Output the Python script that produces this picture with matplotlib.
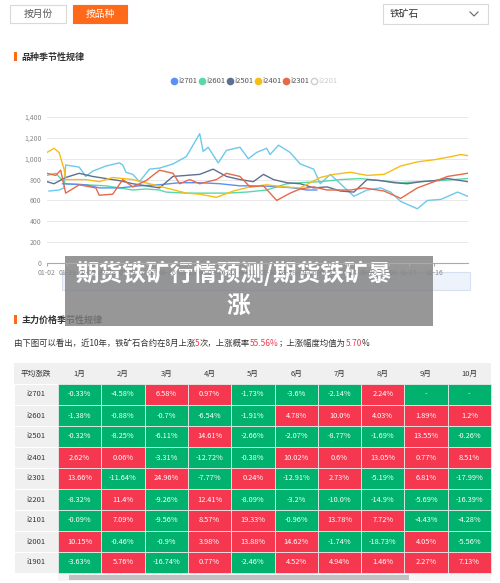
import matplotlib
matplotlib.use("Agg")
import matplotlib.pyplot as plt
from matplotlib.patches import Rectangle
from matplotlib.offsetbox import TextArea, HPacker, AnnotationBbox

plt.rcParams['font.family'] = ['Noto Sans CJK SC', 'DejaVu Sans']

# ---------------- data ----------------
x_labels = ["01-02","01-21","02-09","02-28","03-19","04-07","04-26","05-15","06-03","06-22",
            "07-11","07-30","08-18","09-06","09-25","10-14","10-20","11-08","11-27","12-16"]
x_label_pos = [0,1,2,3,4,5,6,7,8,9,10,11,12,13,14,15,16,17,18,19.25]
y_ticks = [0,200,400,600,800,1000,1200,1400]

series_names = ["i2701","i2601","i2501","i2401","i2301","i2201"]
series_colors = ["#5b8ff9","#5ad8a6","#5d7092","#f6bd16","#e8684a","#cccccc"]

i2101_x = [0.1,0.6,0.85,0.93,1.6,1.93,2.27,2.93,3.6,3.77,3.93,4.27,4.6,5.1,5.6,6.27,6.93,7.6,7.77,8.02,8.52,8.93,9.6,10.02,10.43,10.93,11.1,11.52,12.1,12.6,13.27,13.6,14.1,14.6,15.27,15.93,16.6,17.1,17.6,18.43,18.93,19.6,20.43,20.93]
i2101_y = [690,700,720,940,920,830,880,930,960,940,870,850,780,900,910,950,1020,1240,1070,1110,960,1080,1110,1000,1060,1100,1040,1130,1060,950,900,760,850,760,640,700,720,680,590,520,600,610,680,640]

i2401_x = [0,0.35,0.6,0.85,0.93,1.93,2.6,3.27,4.27,5.1,5.93,6.93,7.6,8.43,9.27,10.1,10.93,11.77,12.6,13.6,14.27,15.1,15.93,16.77,17.6,18.43,19.27,20.1,20.6,20.93]
i2401_y = [1060,1100,1060,900,800,800,780,820,800,760,720,670,660,630,690,730,750,730,720,820,850,870,840,850,930,970,990,1020,1040,1030]

i2301_x = [0,0.43,0.68,0.93,1.6,2.43,2.6,3.27,3.77,4.27,4.93,5.6,6.27,6.6,7.1,7.6,8.43,8.93,9.6,10.1,10.77,11.43,12.1,12.6,13.27,13.93,14.6,15.1,15.77,16.77,17.6,18.43,19.27,19.93,20.93]
i2301_y = [860,840,890,670,750,720,650,660,800,730,790,890,860,760,800,760,800,860,830,730,740,600,670,710,730,700,700,700,720,690,620,720,780,830,860]

i2501_x = [0,0.35,0.93,1.6,2.27,2.93,3.6,4.27,4.93,5.6,6.27,6.93,7.6,8.27,8.93,9.6,10.27,10.77,11.27,11.93,12.6,13.27,13.93,14.6,15.27,15.93,16.6,17.27,17.93,18.6,19.27,19.93,20.93]
i2501_y = [780,760,820,860,830,810,790,760,740,720,830,840,850,900,830,800,780,850,800,770,760,720,730,690,680,800,790,770,760,780,790,810,780]

i2601_x = [0,0.43,0.93,1.93,2.93,3.6,4.27,4.93,5.6,5.93,6.93,7.93,8.93,9.93,10.93,11.93,12.6,13.6,14.6,15.6,16.6,17.6,18.6,19.6,20.27,20.93]
i2601_y = [840,860,760,750,740,720,700,710,700,680,670,670,670,680,700,760,770,780,800,810,790,770,780,790,800,810]

i2701_x = [0.77,1.93,2.6,3.6,4.6,5.6,6.6,7.6,8.6,9.6,10.6,11.6,12.27,12.93,13.43]
i2701_y = [760,750,720,720,740,750,770,770,760,740,740,730,720,700,700]

row_labels = ["i2701","i2601","i2501","i2401","i2301","i2201","i2101","i2001","i1901"]
col_labels = ["1月","2月","3月","4月","5月","6月","7月","8月","9月","10月"]
table_values = [
    [-0.33,-4.58,6.58,0.97,-1.73,-3.6,-2.14,2.24,None,None],
    [-1.38,-0.88,-0.7,-6.54,-1.91,4.78,10.0,4.03,1.89,1.2],
    [-0.32,-8.25,-6.11,14.61,-2.66,-2.07,-8.77,-1.69,13.55,-0.26],
    [2.62,0.06,-3.31,-12.72,-0.38,10.02,0.6,13.05,0.77,8.51],
    [13.66,-11.64,24.96,-7.77,0.24,-12.91,2.73,-5.19,6.81,-17.99],
    [-8.32,11.4,-9.26,12.41,-8.09,-3.2,-10.0,-14.9,-5.69,-16.39],
    [-0.09,7.09,-9.56,8.57,19.33,-0.96,13.78,7.72,-4.43,-4.28],
    [10.15,-0.46,-0.9,3.98,13.88,14.62,-1.74,-18.73,4.05,-5.56],
    [-3.63,5.76,-16.74,0.77,-2.46,4.52,4.94,1.46,2.27,7.13],
]

# ---------------- figure ----------------
W, H = 500, 583
fig = plt.figure(figsize=(W/100, H/100), dpi=100)
bg = fig.add_axes([0, 0, 1, 1])
bg.set_xlim(0, W); bg.set_ylim(H, 0); bg.axis('off')

def fmt(v):
    if v is None:
        return "-"
    s = ("%.2f" % v).rstrip('0')
    if s.endswith('.'):
        s += '0'
    return s + "%"

# tabs
bg.add_patch(Rectangle((10, 5), 56, 18, fc='white', ec='#d9d9d9', lw=0.8))
bg.text(38, 14, "按月份", ha='center', va='center', fontsize=7, color='#555')
bg.add_patch(Rectangle((73, 5), 54, 18, fc='#ff6a1a', ec='#ff6a1a', lw=0.8))
bg.text(100, 14, "按品种", ha='center', va='center', fontsize=7, color='white')
bg.add_patch(Rectangle((383, 4), 105, 20, fc='white', ec='#d9d9d9', lw=0.8))
bg.text(390, 14, "铁矿石", ha='left', va='center', fontsize=7, color='#333')
bg.plot([470, 474, 478], [12, 16, 12], color='#666', lw=0.8)

# section titles
bg.add_patch(Rectangle((14, 52), 2.5, 9, fc='#ff6a1a'))
bg.text(21, 57, "品种季节性规律", ha='left', va='center', fontsize=6.5, color='#333', fontweight='bold')

# legend
lx = 174
for name, c in zip(series_names, series_colors):
    if name == "i2201":
        bg.plot([lx], [81], 'o', ms=4.5, mfc='white', mec=c, mew=1)
        tc = '#cccccc'
    else:
        bg.plot([lx], [81], 'o', ms=4.5, color=c)
        tc = '#555'
    bg.text(lx + 4, 81, name, ha='left', va='center', fontsize=5.5, color=tc)
    lx += 28

# line chart
ax = fig.add_axes([47/W, 1 - 263/H, (468-47)/W, (263-117)/H])
ax.set_xlim(0, 20.95)
ax.set_ylim(0, 1400)
ax.set_yticks(y_ticks)
ax.set_yticklabels([f"{v:,}" for v in y_ticks], fontsize=5, color='#888')
ax.set_xticks(x_label_pos)
ax.set_xticklabels(x_labels, fontsize=5, color='#888')
ax.tick_params(axis='y', length=0, pad=4)
ax.tick_params(axis='x', length=2, color='#aaa', pad=2)
ax.grid(axis='y', color='#e8e8e8', lw=0.7)
for s in ['top', 'right', 'left']:
    ax.spines[s].set_visible(False)
ax.spines['bottom'].set_color('#aaa')
ax.set_facecolor('none')
lines = [(i2101_x, i2101_y, "#6dc8ec"), (i2601_x, i2601_y, series_colors[1]),
         (i2701_x, i2701_y, series_colors[0]), (i2501_x, i2501_y, series_colors[2]),
         (i2401_x, i2401_y, series_colors[3]), (i2301_x, i2301_y, series_colors[4])]
for xs, ys, c in lines:
    ax.plot(xs, ys, color=c, lw=1.0)

# slider
bg.add_patch(Rectangle((62, 272), 408, 18, fc='#eef3fb', ec='#d6e0f0', lw=0.8))

# section title 2 (partly under overlay)
bg.add_patch(Rectangle((14, 315), 2.5, 9, fc='#ff6a1a'))
bg.text(21, 320, "主力价格季节性规律", ha='left', va='center', fontsize=6.5, color='#333', fontweight='bold')

# overlay
bg.add_patch(Rectangle((65, 256), 368, 70, fc='#808080', ec='none', alpha=0.82, zorder=5))
bg.text(76, 273, "期货铁矿行情预测/期货铁矿暴", ha='left', va='center', fontsize=17,
        color='white', fontweight='heavy', zorder=6)
bg.text(226, 306, "涨", ha='left', va='center', fontsize=17, color='white', fontweight='heavy', zorder=6)

# description
parts = [("由下图可以看出，近10年，铁矿石合约在8月上涨", '#333'), ("5", '#f5374f'), ("次，上涨概率", '#333'),
         ("55.56%", '#f5374f'), ("；上涨幅度均值为", '#333'), ("5.70", '#f5374f'), ("%", '#333')]
boxes = [TextArea(s, textprops=dict(fontsize=6, color=c)) for s, c in parts]
pack = HPacker(children=boxes, pad=0, sep=0, align='center')
ab = AnnotationBbox(pack, (14, 343), xycoords='data', box_alignment=(0, 0.5), frameon=False, pad=0)
bg.add_artist(ab)

# table
tx0, first_w, col_w = 14, 44, 43.3
ty0, hdr_h, row_h = 363, 21, 21
green, red = '#00b26e', '#f5374f'
bg.add_patch(Rectangle((tx0, ty0), first_w + col_w*10, hdr_h, fc='#f0f0f0', ec='none'))
bg.text(tx0 + first_w/2, ty0 + hdr_h/2, "平均涨跌", ha='center', va='center', fontsize=5.5, color='#333')
for j, cl in enumerate(col_labels):
    bg.text(tx0 + first_w + col_w*(j+0.5), ty0 + hdr_h/2, cl, ha='center', va='center', fontsize=5.5, color='#333')
for i, rl in enumerate(row_labels):
    y = ty0 + hdr_h + i*row_h
    bg.add_patch(Rectangle((tx0, y), first_w, row_h, fc='#f0f0f0', ec='white', lw=0.8))
    bg.text(tx0 + first_w/2, y + row_h/2, rl, ha='center', va='center', fontsize=5.5, color='#333')
    for j in range(10):
        v = table_values[i][j]
        c = red if (v is not None and v > 0) else green
        bg.add_patch(Rectangle((tx0 + first_w + col_w*j, y), col_w, row_h, fc=c, ec='#e8e8e8', lw=0.6))
        bg.text(tx0 + first_w + col_w*(j+0.5), y + row_h/2, fmt(v), ha='center', va='center',
                fontsize=5.3, color='white')

# scrollbar
bg.add_patch(Rectangle((58, 574), 433, 7, fc='#f5f5f5', ec='none'))
bg.add_patch(Rectangle((69, 575), 340, 5, fc='#c1c1c1', ec='none'))

fig.savefig("out.png", dpi=100)
